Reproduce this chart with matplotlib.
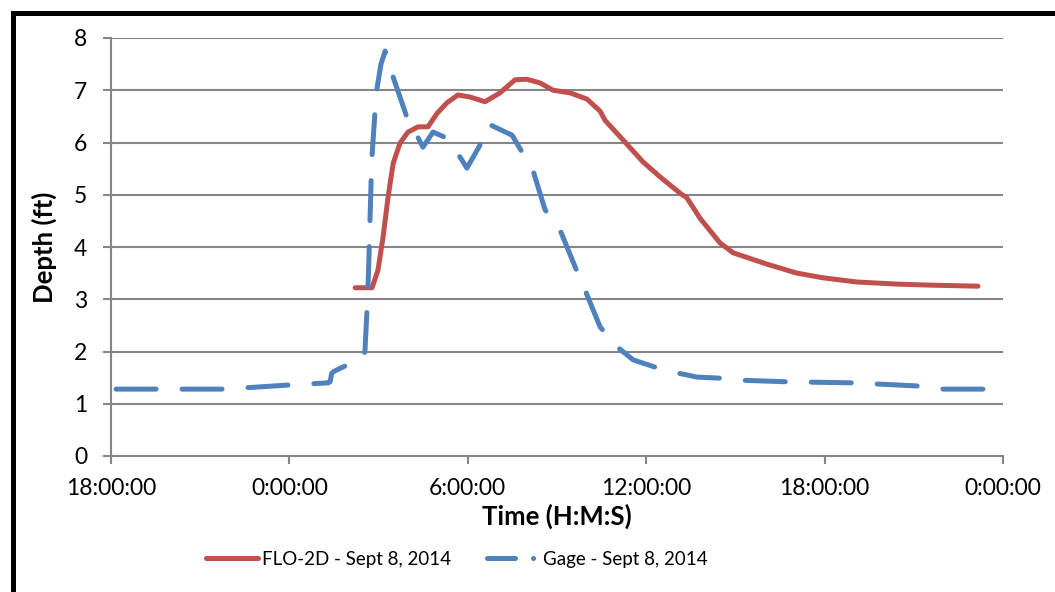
import matplotlib
matplotlib.use("Agg")
import matplotlib.pyplot as plt
from matplotlib.patches import Rectangle
from matplotlib.lines import Line2D

# hours after 18:00:00 (previous day)
flo_hours = [8.21, 8.78, 8.98, 9.15, 9.32, 9.49, 9.72, 9.99, 10.33, 10.66, 10.97, 11.30,
             11.67, 12.08, 12.58, 13.08, 13.59, 13.99, 14.43, 14.87, 15.44, 16.01, 16.45,
             16.62, 17.22, 17.89, 18.47, 19.14, 19.37, 19.81, 20.48, 20.92, 22.07, 23.07,
             23.95, 25.09, 26.44, 27.55, 29.16]
flo_depth = [3.22, 3.22, 3.56, 4.19, 4.96, 5.60, 5.99, 6.20, 6.30, 6.30, 6.56, 6.76,
             6.91, 6.87, 6.78, 6.95, 7.20, 7.21, 7.14, 7.00, 6.95, 6.83, 6.60,
             6.42, 6.05, 5.63, 5.34, 5.03, 4.94, 4.55, 4.08, 3.89, 3.67, 3.50,
             3.41, 3.33, 3.29, 3.27, 3.25]

gage_hours = [0.17, 3.83, 6.02, 7.30, 7.37, 7.42, 7.50, 7.97, 8.44, 8.54, 8.61, 8.66,
              8.71, 8.75, 8.78, 8.88, 8.95, 9.08, 9.22, 9.49, 9.96, 10.33, 10.49, 10.83,
              11.23, 11.74, 11.97, 12.41, 12.71, 13.49, 13.76, 14.19, 14.60, 15.10, 15.61,
              15.94, 16.45, 17.02, 17.56, 18.30, 19.04, 19.71, 20.48, 21.22, 22.74, 24.96,
              27.14, 27.82, 30.00]
gage_depth = [1.28, 1.28, 1.36, 1.40, 1.42, 1.58, 1.62, 1.75, 1.85, 2.00, 2.80, 3.50,
              4.50, 5.30, 5.75, 6.60, 7.05, 7.50, 7.75, 7.25, 6.47, 6.09, 5.91, 6.20,
              6.10, 5.72, 5.51, 5.95, 6.35, 6.14, 5.88, 5.47, 4.71, 4.33, 3.62,
              3.18, 2.47, 2.09, 1.84, 1.70, 1.59, 1.51, 1.49, 1.45, 1.42, 1.40,
              1.34, 1.28, 1.28]

x_ticks = [0, 6, 12, 18, 24, 30]
x_tick_labels = ["18:00:00", "0:00:00", "6:00:00", "12:00:00", "18:00:00", "0:00:00"]
y_ticks = [0, 1, 2, 3, 4, 5, 6, 7, 8]

RED = "#C0504D"
BLUE = "#4F81BD"
GRAY = "#868686"

plt.rcParams['font.family'] = ['Lato', 'DejaVu Sans']

W, H = 1055, 592
fig = plt.figure(figsize=(W / 100, H / 100), dpi=100)
ax = fig.add_axes([111 / W, 1 - 456 / H, (1003 - 111) / W, (456 - 38) / H])

ax.plot(flo_hours, flo_depth, color=RED, lw=3.6, solid_capstyle='round',
        solid_joinstyle='round', zorder=3)
ax.plot(gage_hours, gage_depth, color=BLUE, lw=3.6, dashes=(8, 5.2),
        dash_capstyle='round', dash_joinstyle='round', zorder=3)

ax.set_xlim(0, 30)
ax.set_ylim(0, 8)
ax.set_xticks(x_ticks)
ax.set_xticklabels(x_tick_labels)
ax.set_yticks(y_ticks)
ax.yaxis.grid(True, color=GRAY, lw=1.5)
ax.set_axisbelow(True)
for s in ['top', 'right']:
    ax.spines[s].set_visible(False)
for s in ['left', 'bottom']:
    ax.spines[s].set_color(GRAY)
    ax.spines[s].set_linewidth(1.5)
ax.tick_params(axis='both', colors=GRAY, length=6, width=1.5, labelcolor='black',
               labelsize=16.5, pad=11)
ax.tick_params(axis='x', pad=10)

ax.set_xlabel("Time (H:M:S)", fontsize=18.5, fontweight='bold', labelpad=3)
ax.set_ylabel("Depth (ft)", fontsize=18.5, fontweight='bold', labelpad=12)

handles = [Line2D([], [], color=RED, lw=3.6, solid_capstyle='round'),
           Line2D([], [], color=BLUE, lw=3.6, dashes=(5.6, 3.6, 0.01, 30),
                  dash_capstyle='round')]
leg = fig.legend(handles, ["FLO-2D - Sept 8, 2014", "Gage - Sept 8, 2014"],
                 loc='center', bbox_to_anchor=(457 / W, 1 - 559 / H), ncol=2,
                 frameon=False, fontsize=13.5, handlelength=2.75,
                 handletextpad=0.25, columnspacing=1.9, borderpad=0)

# outer chart border (left and top visible)
fig.patches.append(Rectangle((12.5 / W, -0.1), 1.2, 1 - 12.5 / H + 0.1,
                             transform=fig.transFigure, fill=False,
                             edgecolor='black', lw=3.6))

fig.savefig("out.png", dpi=100)
